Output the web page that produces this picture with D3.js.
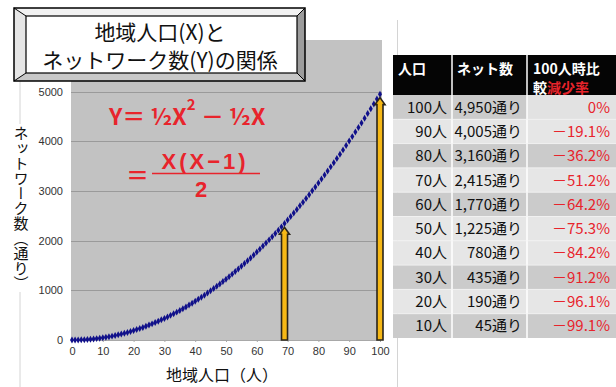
<!DOCTYPE html>
<html><head><meta charset="utf-8">
<script src="https://cdn.jsdelivr.net/npm/d3@7"></script>
<style>
html,body{margin:0;padding:0;background:#fff;}
svg{display:block;}
</style></head>
<body>
<svg id="chart" width="616" height="387"></svg>
<script>
// Population (X) and number of network links Y = X(X-1)/2
const population = d3.range(0, 101);
const links = [0,
  0,1,3,6,10,15,21,28,36,45,
  55,66,78,91,105,120,136,153,171,190,
  210,231,253,276,300,325,351,378,406,435,
  465,496,528,561,595,630,666,703,741,780,
  820,861,903,946,990,1035,1081,1128,1176,1225,
  1275,1326,1378,1431,1485,1540,1596,1653,1711,1770,
  1830,1891,1953,2016,2080,2145,2211,2278,2346,2415,
  2485,2556,2628,2701,2775,2850,2926,3003,3081,3160,
  3240,3321,3403,3486,3570,3655,3741,3828,3916,4005,
  4095,4186,4278,4371,4465,4560,4656,4753,4851,4950];
const xTicks = [0,10,20,30,40,50,60,70,80,90,100];
const yTicks = [0,1000,2000,3000,4000,5000];
const arrowX = [69, 100];
const arrowTop = [2270, 4880];

// Table on the right
const tablePeople = ["100人","90人","80人","70人","60人","50人","40人","30人","20人","10人"];
const tableLinks = ["4,950通り","4,005通り","3,160通り","2,415通り","1,770通り","1,225通り","780通り","435通り","190通り","45通り"];
const tableRate = ["0%","－19.1%","－36.2%","－51.2%","－64.2%","－75.3%","－84.2%","－91.2%","－96.1%","－99.1%"];
const rowShade = [1,0,1,0,1,0,0,1,0,1];

const svg = d3.select("#chart");
const JP = "'Noto Sans CJK JP','Noto Sans',sans-serif";
const NUM = "'Liberation Sans',Arial,sans-serif";
const red = "#e8242c";

const x = d3.scaleLinear().domain([0,100]).range([72,380]);
const y = d3.scaleLinear().domain([0,6000]).range([340,42]);

// outer frame lines of the chart area
svg.append("line").attr("x1",20).attr("x2",20).attr("y1",20).attr("y2",387).attr("stroke","#d4d4d4");
svg.append("line").attr("x1",397.5).attr("x2",397.5).attr("y1",20).attr("y2",387).attr("stroke","#d4d4d4");

// plot background
svg.append("rect").attr("x",71).attr("y",y(6000)-2).attr("width",311).attr("height",y(0)-y(6000)+2).attr("fill","#c2c2c2");

// gridlines
svg.append("g").selectAll("line").data(yTicks.filter(d=>d>0)).join("line")
  .attr("x1",71).attr("x2",382).attr("y1",d=>Math.round(y(d))+0.5).attr("y2",d=>Math.round(y(d))+0.5)
  .attr("stroke","#9a9a9a").attr("stroke-width",1);

// axes
const gx = svg.append("g").attr("transform",`translate(0,${y(0)})`)
  .call(d3.axisBottom(x).tickValues(xTicks).tickSize(2).tickPadding(5));
gx.select(".domain").attr("stroke","#a8a8a8");
gx.selectAll(".tick line").attr("stroke","#a8a8a8");
gx.selectAll("text").attr("font-family",NUM).attr("font-size",11).attr("fill","#333");

const gy = svg.append("g").attr("transform","translate(71,0)")
  .call(d3.axisLeft(y).tickValues(yTicks).tickFormat(d3.format("d")).tickSize(0).tickPadding(8));
gy.select(".domain").remove();
gy.selectAll("text").attr("font-family",NUM).attr("font-size",11).attr("fill","#333");

// curve markers
const diamond = d3.symbol().type(d3.symbolDiamond).size(14);
svg.append("g").selectAll("path").data(population).join("path")
  .attr("d",diamond)
  .attr("transform",(d,i)=>`translate(${x(d)},${y(links[i])})`)
  .attr("fill","#10108a");

// yellow arrows
arrowX.forEach((v,i)=>{
  const cx = x(v), yt = y(arrowTop[i]), yb = y(0);
  const sw = 3, hw = 5, hh = 7;
  const p = `M${cx-sw},${yb} L${cx-sw},${yt+hh} L${cx-hw},${yt+hh} L${cx},${yt} L${cx+hw},${yt+hh} L${cx+sw},${yt+hh} L${cx+sw},${yb} Z`;
  svg.append("path").attr("d",p).attr("fill","#f6b816").attr("stroke","#2a2418").attr("stroke-width",1.6).attr("stroke-linejoin","miter");
});

// axis titles
svg.append("text").attr("x",222).attr("y",381).attr("text-anchor","middle")
  .attr("font-family",JP).attr("font-size",16).attr("fill","#111").text("地域人口（人）");
svg.append("rect").attr("x",12).attr("y",124).attr("width",18).attr("height",168).attr("fill","#fff");
svg.append("text").attr("x",21).attr("y",208).attr("text-anchor","middle")
  .style("writing-mode","vertical-rl")
  .attr("font-family",JP).attr("font-size",15).attr("fill","#111").text("ネットワーク数（通り）");

// formula
const f1 = svg.append("text").attr("x",109).attr("y",125).attr("font-family",JP).attr("font-weight","bold")
  .attr("font-size",23).attr("fill",red);
f1.append("tspan").text("Y＝ ½X");
f1.append("tspan").attr("dy",-15).attr("font-size",15).text("2");
f1.append("tspan").attr("dy",15).text(" － ½X");
svg.append("text").attr("x",126).attr("y",184).attr("font-family",JP).attr("font-weight","bold")
  .attr("font-size",23).attr("fill",red).text("＝");
svg.append("text").attr("x",205).attr("y",169).attr("text-anchor","middle").attr("font-family",NUM).attr("font-weight","bold")
  .attr("font-size",22).attr("letter-spacing",3).attr("fill",red).text("X(X−1)");
svg.append("line").attr("x1",152).attr("x2",260).attr("y1",173.5).attr("y2",173.5).attr("stroke",red).attr("stroke-width",1.5);
svg.append("text").attr("x",201).attr("y",197).attr("text-anchor","middle").attr("font-family",NUM).attr("font-weight","bold")
  .attr("font-size",22).attr("fill",red).text("2");

// title box with bevelled frame
const bx0=14, by0=8, bx1=305, by1=81, ix0=26, iy0=16, ix1=297, iy1=73;
const bevel = svg.append("g");
bevel.append("path").attr("d",`M${bx0},${by0}L${bx1},${by0}L${ix1},${iy0}L${ix0},${iy0}Z`).attr("fill","#f2f2f2");
bevel.append("path").attr("d",`M${bx0},${by0}L${ix0},${iy0}L${ix0},${iy1}L${bx0},${by1}Z`).attr("fill","#e6e6e6");
bevel.append("path").attr("d",`M${bx1},${by0}L${bx1},${by1}L${ix1},${iy1}L${ix1},${iy0}Z`).attr("fill","#9c9c9c");
bevel.append("path").attr("d",`M${bx0},${by1}L${bx1},${by1}L${ix1},${iy1}L${ix0},${iy1}Z`).attr("fill","#c8c8c8");
bevel.append("rect").attr("x",bx0).attr("y",by0).attr("width",bx1-bx0).attr("height",by1-by0).attr("fill","none").attr("stroke","#000").attr("stroke-width",1.5);
bevel.append("rect").attr("x",ix0).attr("y",iy0).attr("width",ix1-ix0).attr("height",iy1-iy0).attr("fill","#fff").attr("stroke","#000").attr("stroke-width",1.2);
[[bx0,by0,ix0,iy0],[bx1,by0,ix1,iy0],[bx0,by1,ix0,iy1],[bx1,by1,ix1,iy1]].forEach(c=>
  bevel.append("line").attr("x1",c[0]).attr("y1",c[1]).attr("x2",c[2]).attr("y2",c[3]).attr("stroke","#000").attr("stroke-width",1));
svg.append("text").attr("x",160).attr("y",40).attr("text-anchor","middle").attr("font-family",JP)
  .attr("font-size",21).attr("fill","#111").text("地域人口(X)と");
svg.append("text").attr("x",160).attr("y",68).attr("text-anchor","middle").attr("font-family",JP)
  .attr("font-size",21).attr("fill","#111").text("ネットワーク数(Y)の関係");

// table
const tx0 = 393, tx1 = 616, c1 = 452, c2 = 527, hy0 = 55, hy1 = 95, rowH = 24.3;
const tg = svg.append("g");
tg.append("rect").attr("x",tx0).attr("y",hy0).attr("width",tx1-tx0).attr("height",hy1-hy0).attr("fill","#050505");
tg.selectAll("rect.row").data(tablePeople).join("rect").attr("class","row")
  .attr("x",tx0).attr("y",(d,i)=>hy1+i*rowH).attr("width",tx1-tx0).attr("height",rowH)
  .attr("fill",(d,i)=>rowShade[i]?"#cbcbcb":"#e6e6e6");
// lighter rate cell in the first row
tg.append("rect").attr("x",c2).attr("y",hy1).attr("width",tx1-c2).attr("height",rowH).attr("fill","#e2e2e2");
[c1,c2].forEach(cx=>tg.append("line").attr("x1",cx).attr("x2",cx).attr("y1",hy0).attr("y2",hy1+10*rowH).attr("stroke","#fff").attr("stroke-width",1.5));
d3.range(1,10).forEach(i=>tg.append("line").attr("x1",tx0).attr("x2",tx1).attr("y1",hy1+i*rowH).attr("y2",hy1+i*rowH).attr("stroke","#f4f4f4").attr("stroke-width",0.8));

const hdr = {"font-family":JP,"font-size":14,"font-weight":"bold","fill":"#fff"};
function applyAttrs(sel,o){Object.entries(o).forEach(([k,v])=>sel.attr(k,v));return sel;}
applyAttrs(tg.append("text").attr("x",398).attr("y",74),hdr).text("人口");
applyAttrs(tg.append("text").attr("x",457).attr("y",74),hdr).text("ネット数");
applyAttrs(tg.append("text").attr("x",533).attr("y",74),hdr).text("100人時比");
const h2 = applyAttrs(tg.append("text").attr("x",533).attr("y",93),hdr);
h2.append("tspan").text("較");
h2.append("tspan").attr("fill",red).text("減少率");

const body = {"font-family":JP,"font-size":15,"fill":"#111","text-anchor":"end"};
tablePeople.forEach((t,i)=>{
  const by = hy1 + i*rowH + rowH/2 + 5.5;
  applyAttrs(tg.append("text").attr("x",447).attr("y",by),body).text(t);
  applyAttrs(tg.append("text").attr("x",522).attr("y",by),body).text(tableLinks[i]);
  applyAttrs(tg.append("text").attr("x",610).attr("y",by),body).attr("fill",red).text(tableRate[i]);
});
</script>
</body></html>
